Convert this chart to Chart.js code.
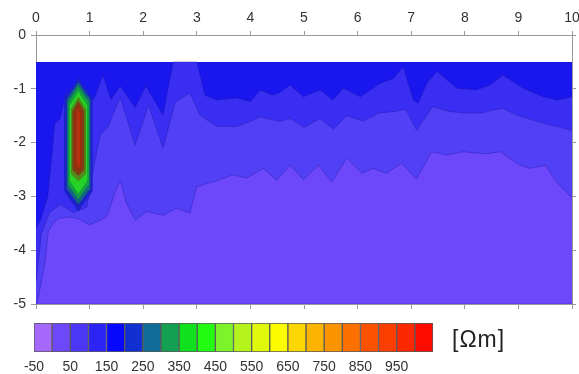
<!DOCTYPE html>
<html>
<head>
<meta charset="utf-8">
<script src="https://cdn.jsdelivr.net/npm/chart.js@4.4.0/dist/chart.umd.min.js"></script>
<style>
  body { margin: 0; background: #fff; width: 579px; height: 374px; overflow: hidden; position: relative; font-family: 'Liberation Sans', Arial, sans-serif; }
  #main { position: absolute; left: 0; top: 0; }
  #bar { position: absolute; left: 0; top: 316px; }
  #unit { position: absolute; left: 452px; top: 326px; font-size: 23px; letter-spacing: 1px; color: #222; }
</style>
</head>
<body>
<canvas id="main" width="579" height="318"></canvas>
<canvas id="bar" width="440" height="58"></canvas>
<div id="unit">[Ωm]</div>
<script>
// contour boundaries (distance x, depth y)
// b1: 0-50 / 50-100 Ωm
const b1X = [0, 0.04, 0.17, 0.23, 0.32, 0.42, 0.63, 0.8, 1.0, 1.32, 1.47, 1.57, 1.69, 1.85, 2.06, 2.37, 2.62, 2.87, 3.0, 3.3, 3.68, 3.93, 4.24, 4.49, 4.74, 4.99, 5.27, 5.52, 5.8, 6.08, 6.29, 6.54, 6.82, 7.1, 7.38, 7.66, 7.97, 8.4, 8.66, 9.03, 9.22, 9.5, 9.71, 10];
const b1Y = [-5, -4.9, -4.2, -3.65, -3.5, -3.41, -3.38, -3.42, -3.53, -3.38, -2.94, -2.7, -3.13, -3.44, -3.28, -3.35, -3.22, -3.31, -2.82, -2.73, -2.6, -2.66, -2.48, -2.7, -2.42, -2.69, -2.42, -2.73, -2.29, -2.57, -2.48, -2.57, -2.38, -2.68, -2.17, -2.23, -2.17, -2.21, -2.17, -2.42, -2.48, -2.42, -2.73, -3.03];
// b2: 50-100 / 100-150 Ωm
const b2X = [0, 0.1, 0.25, 0.45, 0.7, 0.95, 1.05, 1.2, 1.35, 1.57, 1.85, 2.1, 2.37, 2.6, 2.87, 3.06, 3.37, 3.74, 4.0, 4.18, 4.55, 4.74, 5.0, 5.3, 5.55, 5.8, 6.1, 6.4, 6.7, 6.9, 7.1, 7.4, 7.7, 8.0, 8.3, 8.7, 9.0, 9.5, 10];
const b2Y = [-4.6, -3.7, -3.3, -3.15, -3.3, -3.2, -2.6, -1.85, -1.7, -1.15, -2.05, -1.3, -2.1, -1.25, -1.08, -1.49, -1.7, -1.7, -1.61, -1.52, -1.61, -1.55, -1.72, -1.55, -1.75, -1.5, -1.6, -1.45, -1.42, -1.38, -1.77, -1.33, -1.42, -1.45, -1.45, -1.36, -1.5, -1.65, -1.77];
// b3: 100-150 / 150-200 Ωm
const b3X = [0, 0.1, 0.22, 0.3, 0.35, 0.45, 0.52, 0.6, 1.0, 1.1, 1.25, 1.4, 1.57, 1.85, 2.05, 2.37, 2.56, 3.0, 3.03, 3.15, 3.37, 3.74, 4.0, 4.18, 4.42, 4.55, 4.74, 4.99, 5.3, 5.54, 5.73, 6.05, 6.42, 6.67, 6.85, 7.04, 7.13, 7.29, 7.48, 7.85, 8.22, 8.47, 8.71, 9.09, 9.46, 9.72, 10];
const b3Y = [-3.6, -3.4, -3.0, -2.2, -1.65, -1.55, -1.25, -1.3, -1.3, -1.15, -0.75, -1.2, -0.95, -1.35, -0.95, -1.49, -0.5, -0.5, -0.61, -1.12, -1.21, -1.17, -1.24, -1.02, -1.12, -1.07, -0.93, -1.15, -1.02, -1.21, -0.99, -1.15, -0.9, -0.81, -0.59, -1.21, -1.27, -0.9, -0.68, -0.99, -1.02, -0.93, -0.75, -0.99, -1.15, -1.21, -1.15];

// conductive anomaly near x = 0.8, outer to inner contour
const anomLeft = [0.52, 0.57, 0.60, 0.625, 0.65, 0.675, 0.71, 0.755];
const anomRight = [1.06, 1.02, 0.99, 0.96, 0.935, 0.905, 0.87, 0.825];
const anomTop = [-0.8, -0.88, -0.95, -1.05, -1.15, -1.22, -1.28, -1.35];
const anomUpper = [-1.15, -1.2, -1.25, -1.32, -1.38, -1.42, -1.45, -1.5];
const anomLower = [-2.9, -2.85, -2.78, -2.7, -2.58, -2.5, -2.45, -2.4];
const anomBottom = [-3.28, -3.15, -3.05, -2.95, -2.72, -2.62, -2.55, -2.48];
const anomCentre = 0.79;
const anomColors = ['#1a22c8', '#12667e', '#14a040', '#26d224', '#4f8a1a', '#7a4012', '#943010', '#b83010'];

const depthTop = -0.5;
const bandColors = ['#6d47fa', '#5140f5', '#3a2ef2', '#1a16ee'];

// colour scale
const cbEdges = [-50, 0, 50, 100, 150, 200, 250, 300, 350, 400, 450, 500, 550, 600, 650, 700, 750, 800, 850, 900, 950, 1000, 1050];
const cbColors = ['#a468fd', '#6d48fb', '#4a36f3', '#2c24f4', '#0808fc', '#1030d2', '#126c98', '#13a052', '#10e01e', '#22fc12', '#7cf42c', '#b4f41c', '#e0f80c', '#fcfc00', '#fcd600', '#fcb400', '#fc9400', '#fc7000', '#fc5200', '#fc3e00', '#fc2800', '#fc0c00'];
const cbTickValues = [-50, 50, 150, 250, 350, 450, 550, 650, 750, 850, 950];
const cbTickLabels = ['-50', '50', '150', '250', '350', '450', '550', '650', '750', '850', '950'];

Chart.defaults.font.family = "'Liberation Sans', Arial, sans-serif";
Chart.defaults.font.size = 14;
Chart.defaults.color = '#333';

const toPoints = (xs, ys) => xs.map((x, i) => ({ x: x, y: ys[i] }));
const edge = 'rgba(30,20,150,0.35)';

function band(xs, ys, color, order) {
    return {
        data: toPoints(xs, ys),
        borderColor: edge,
        borderWidth: 1,
        backgroundColor: color,
        fill: { value: depthTop },
        pointRadius: 0,
        tension: 0,
        order: order
    };
}

const datasets = [
    band([0, 10], [-5, -5], bandColors[0], 100),
    band(b1X, b1Y, bandColors[1], 99),
    band(b2X, b2Y, bandColors[2], 98),
    band(b3X, b3Y, bandColors[3], 97)
];

// each anomaly contour = upper chain filled down to its lower chain
anomColors.forEach((c, i) => {
    const order = 90 - i;
    datasets.push({
        data: toPoints([anomLeft[i], anomCentre, anomRight[i]], [anomUpper[i], anomTop[i], anomUpper[i]]),
        borderWidth: 0,
        backgroundColor: c,
        fill: '+1',
        pointRadius: 0,
        tension: 0,
        order: order
    });
    datasets.push({
        data: toPoints([anomLeft[i], anomCentre, anomRight[i]], [anomLower[i], anomBottom[i], anomLower[i]]),
        borderWidth: 0,
        fill: false,
        pointRadius: 0,
        tension: 0,
        order: order
    });
});

const axisGrey = '#999';

new Chart(document.getElementById('main'), {
    type: 'line',
    data: { datasets: datasets },
    options: {
        responsive: false,
        animation: false,
        layout: { padding: 0 },
        plugins: { legend: { display: false }, tooltip: { enabled: false } },
        scales: {
            x: {
                type: 'linear', position: 'top', min: 0, max: 10,
                ticks: { stepSize: 1, padding: 4, maxRotation: 0, autoSkip: false },
                grid: { drawOnChartArea: false, tickLength: 4, color: axisGrey },
                border: { color: axisGrey },
                afterFit: s => { s.height = 35; s.paddingLeft = 0; s.paddingRight = 0; }
            },
            xb: {
                type: 'linear', position: 'bottom', min: 0, max: 10,
                ticks: { stepSize: 1, display: false },
                grid: { drawOnChartArea: false, tickLength: 5, color: axisGrey },
                border: { color: axisGrey },
                afterFit: s => { s.height = 14; s.paddingLeft = 0; s.paddingRight = 0; }
            },
            y: {
                type: 'linear', position: 'left', min: -5, max: 0,
                ticks: { stepSize: 1, padding: 5 },
                grid: { drawOnChartArea: false, tickLength: 5, color: axisGrey },
                border: { color: axisGrey },
                afterFit: s => { s.width = 36; }
            },
            yr: {
                type: 'linear', position: 'right', min: -5, max: 0,
                ticks: { stepSize: 1, display: false },
                grid: { drawOnChartArea: false, tickLength: 4, color: axisGrey },
                border: { color: axisGrey },
                afterFit: s => { s.width = 7; }
            }
        }
    }
});

new Chart(document.getElementById('bar'), {
    type: 'bar',
    data: {
        datasets: [{
            data: cbColors.map((c, i) => ({ x: (cbEdges[i] + cbEdges[i + 1]) / 2, y: 1 })),
            backgroundColor: cbColors,
            borderColor: '#5a5a5a',
            borderWidth: 1,
            borderSkipped: false,
            barPercentage: 1,
            categoryPercentage: 1
        }]
    },
    options: {
        responsive: false,
        animation: false,
        layout: { padding: { left: 34, right: 7, top: 7, bottom: 0 } },
        plugins: { legend: { display: false }, tooltip: { enabled: false } },
        scales: {
            x: {
                type: 'linear', min: cbEdges[0], max: cbEdges[cbEdges.length - 1], offset: false,
                afterBuildTicks: s => { s.ticks = cbTickValues.map(v => ({ value: v })); },
                ticks: {
                    padding: 7, maxRotation: 0, autoSkip: false,
                    callback: (v, i) => cbTickLabels[i]
                },
                grid: { display: false, drawTicks: false, offset: false },
                border: { display: false },
                afterFit: s => { s.height = 22; s.paddingLeft = 0; s.paddingRight = 0; }
            },
            y: { display: false, min: 0, max: 1 }
        }
    }
});
</script>
</body>
</html>
